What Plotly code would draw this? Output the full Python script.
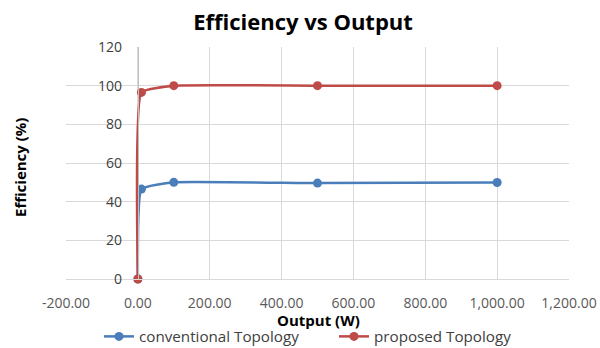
import plotly.graph_objects as go

output_w = [0, 10, 100, 500, 1000]
conventional = [0, 46.5, 50.0, 49.6, 49.9]
proposed = [0, 96.5, 100.0, 100.0, 100.0]
series_names = ["conventional Topology", "proposed Topology"]
x_tick_vals = [-200, 0, 200, 400, 600, 800, 1000, 1200]
x_tick_labels = ["-200.00", "0.00", "200.00", "400.00", "600.00", "800.00", "1,000.00", "1,200.00"]
title_text = "Efficiency vs Output"
x_title = "Output (W)"
y_title = "Efficiency (%)"

FONT = "'Open Sans', Lato, 'Liberation Sans', sans-serif"

fig = go.Figure()
fig.add_trace(go.Scatter(
    x=output_w, y=conventional, name=series_names[0], mode="lines+markers",
    line=dict(color="#4a7ebb", width=2.5, shape="spline", smoothing=0.35),
    marker=dict(size=9, color="#4a7ebb"), cliponaxis=False,
))
fig.add_trace(go.Scatter(
    x=output_w, y=proposed, name=series_names[1], mode="lines+markers",
    line=dict(color="#be4b48", width=2.5, shape="spline", smoothing=0.35),
    marker=dict(size=9, color="#be4b48"), cliponaxis=False,
))

xmin, xmax = -200, 1200
fig.update_layout(
    width=600, height=348,
    margin=dict(l=66, r=31, t=47, b=69, autoexpand=False),
    paper_bgcolor="white", plot_bgcolor="white",
    font=dict(family=FONT, size=14, color="#595959"),
    title=dict(text="<b>" + title_text + "</b>", x=0.505, xanchor="center",
               y=1 - 22 / 348, yanchor="middle",
               font=dict(family=FONT, size=22, color="#000000")),
    showlegend=True,
    legend=dict(orientation="h", x=(99 - 66) / 503, xanchor="left",
                y=-(336.5 - 279) / 232, yanchor="middle",
                font=dict(family=FONT, size=15.2, color="#404040"),
                entrywidth=190, entrywidthmode="pixels",
                bgcolor="rgba(0,0,0,0)"),
    xaxis=dict(range=[xmin, xmax], tickmode="array", tickvals=x_tick_vals, ticktext=x_tick_labels,
               showgrid=True, gridcolor="#d9d9d9", gridwidth=1,
               zeroline=False, showline=True, linecolor="#d9d9d9",
               ticks="", ticklabelstandoff=11,
               tickfont=dict(family=FONT, size=14, color="#595959"), fixedrange=True),
    yaxis=dict(range=[0, 120], dtick=20, anchor="free",
               position=(0 - xmin) / (xmax - xmin),
               showgrid=True, gridcolor="#d9d9d9", gridwidth=1,
               zeroline=False, showline=True, linecolor="#bfbfbf",
               ticks="", ticklabelstandoff=13,
               tickfont=dict(family=FONT, size=14, color="#404040"), fixedrange=True),
    annotations=[
        dict(text="<b>" + x_title + "</b>", xref="paper", yref="paper",
             x=(318 - 66) / 503, y=-(320 - 279) / 232, xanchor="center", yanchor="middle",
             showarrow=False, font=dict(family=FONT, size=15, color="#000000")),
        dict(text="<b>" + y_title + "</b>", xref="paper", yref="paper",
             x=-(66 - 20) / 503, y=(279 - 168) / 232, xanchor="center", yanchor="middle",
             textangle=-90, showarrow=False,
             font=dict(family=FONT, size=15, color="#000000")),
    ],
)
fig.write_html("out.html")
